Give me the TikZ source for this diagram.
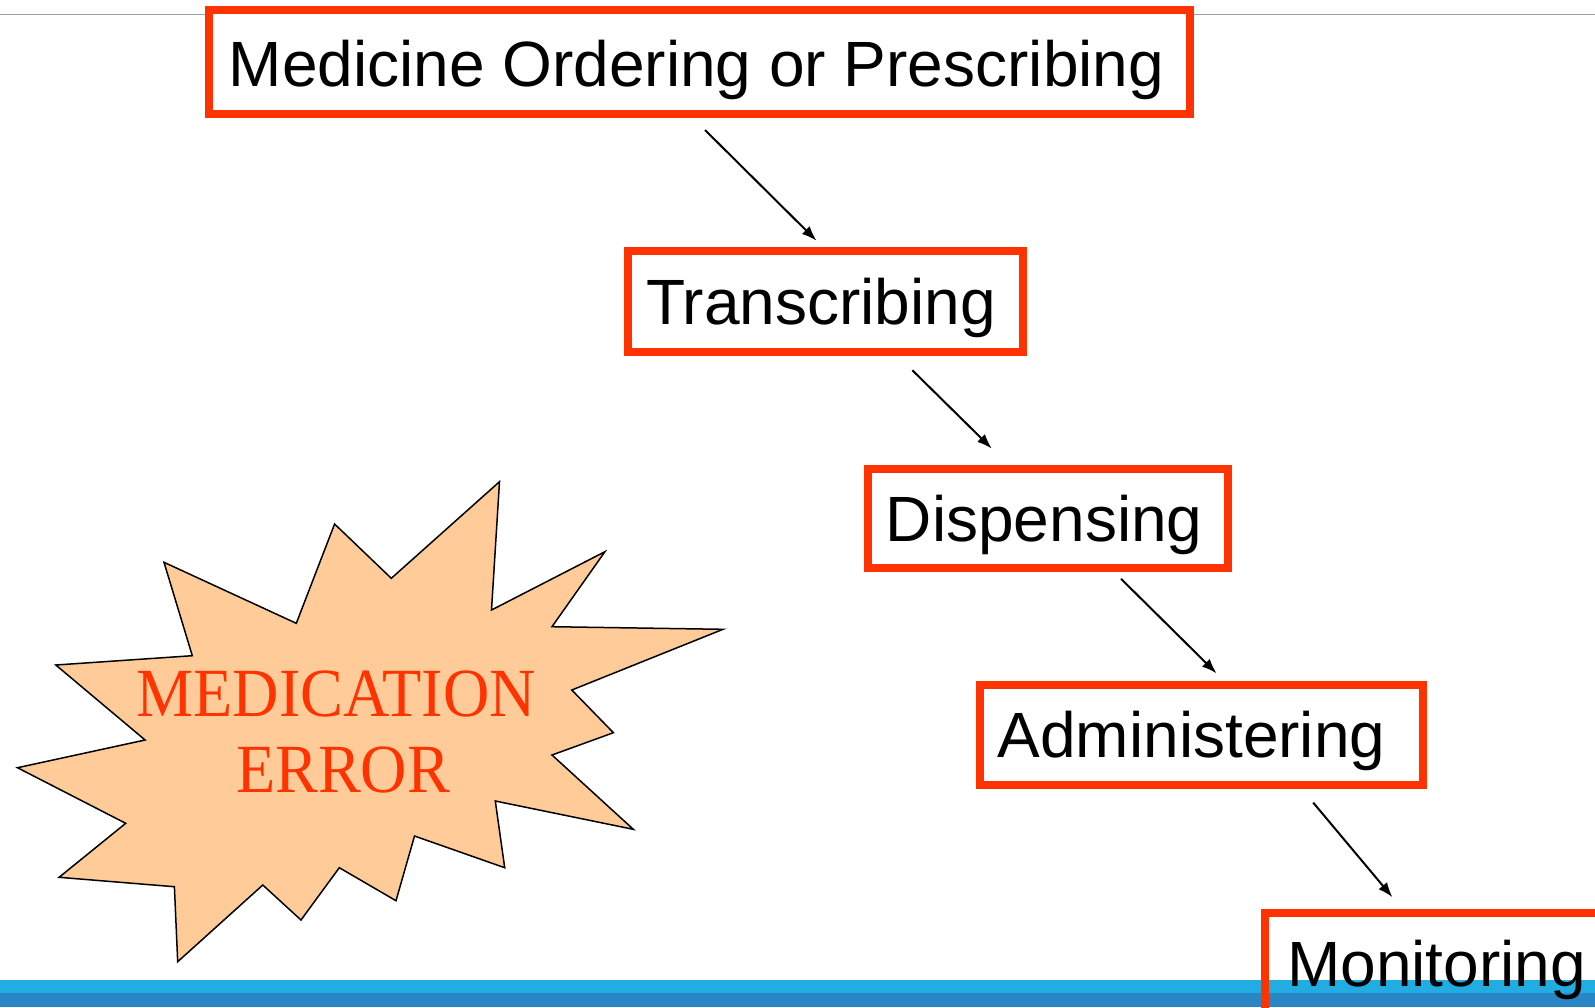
\documentclass[tikz,border=0pt]{standalone}
\usepackage{fontspec}
\usepackage{graphicx}
\setmainfont{Liberation Sans}
\newfontfamily\serifrm{Liberation Serif}
\usetikzlibrary{arrows.meta}
\definecolor{boxred}{HTML}{FF3300}
\definecolor{peach}{HTML}{FFCC99}
\definecolor{barlight}{HTML}{21ADE2}
\definecolor{bardark}{HTML}{2A85C5}
\definecolor{rulegray}{HTML}{A0A0A0}
\begin{document}
\begin{tikzpicture}[x=1pt,y=-1pt,
  stepbox/.style={draw=boxred, line width=8pt, fill=white, inner sep=0pt,
    text height=46pt, text depth=0pt, font=\fontsize{64}{70}\selectfont},
  flow/.style={draw=black, line width=2pt, -{Latex[length=15pt,width=11pt]}},
  burst/.style={draw=black, line width=1.5pt, fill=peach, line join=miter},
  errlabel/.style={font=\serifrm\fontsize{69}{76}\selectfont, text=boxred, align=center, inner sep=0pt}
]
\useasboundingbox (0,0) rectangle (1595,1007);
\clip (0,0) rectangle (1595,1007);

% top rule and bottom bar
\draw[rulegray, line width=1.5pt] (0,14.7) -- (1595,14.7);
\fill[barlight] (0,980) rectangle (1595,993);
\fill[bardark] (0,993) rectangle (1595,1007);

% starburst
\draw[burst] (499.5,481.7) -- (491.5,610) -- (604.9,551.7) -- (552,626.7) -- (723,629.3)
  -- (571.8,690) -- (613.4,732.7) -- (552,755) -- (633.3,829.3) -- (495.3,801)
  -- (504.7,867.7) -- (414.5,836) -- (396,900.7) -- (339.3,867.7) -- (301,920)
  -- (262.8,885) -- (177.7,961.7) -- (174.4,886.7) -- (59.1,877.3) -- (125.7,823.3)
  -- (17.5,767.7) -- (145.1,740) -- (55.8,665) -- (192.3,655.7) -- (164,562.3)
  -- (296.3,623.3) -- (334.6,524) -- (391.3,578.3) -- cycle;
\node[errlabel] (errtext) at (338.5,732) {\scalebox{0.93}[1]{MEDICATION}\kern4.5pt\\\hspace{9pt}\scalebox{0.93}[1]{ERROR}};

% boxes
\node[stepbox, text height=48pt, minimum width=981pt, minimum height=104pt] (order) at (699.5,62) {Medicine Ordering or Prescribing\kern6pt};
\node[stepbox, minimum width=395pt, minimum height=101pt] (trans) at (825,301.5) {Transcribing\kern8pt};
\node[stepbox, minimum width=360.5pt, minimum height=99pt] (disp) at (1047.75,518.25) {Dispensing\kern7pt};
\node[stepbox, minimum width=443.5pt, minimum height=100pt] (admin) at (1201.25,734.5) {Administering\kern19.5pt};
\node[stepbox, fill=none, minimum width=343pt, minimum height=100pt] (monit) at (1436.5,963) {Monitoring};

% connectors
\coordinate (a1s) at (705,130);      \coordinate (a1e) at (816.5,240.7);
\coordinate (a2s) at (912.4,370.3);  \coordinate (a2e) at (991.8,448.6);
\coordinate (a3s) at (1121,578.8);   \coordinate (a3e) at (1216.6,673.4);
\coordinate (a4s) at (1313.2,802.6); \coordinate (a4e) at (1392.5,897.3);
\draw[flow] (a1s) -- (a1e);
\draw[flow] (a2s) -- (a2e);
\draw[flow] (a3s) -- (a3e);
\draw[flow] (a4s) -- (a4e);
\end{tikzpicture}
\end{document}
